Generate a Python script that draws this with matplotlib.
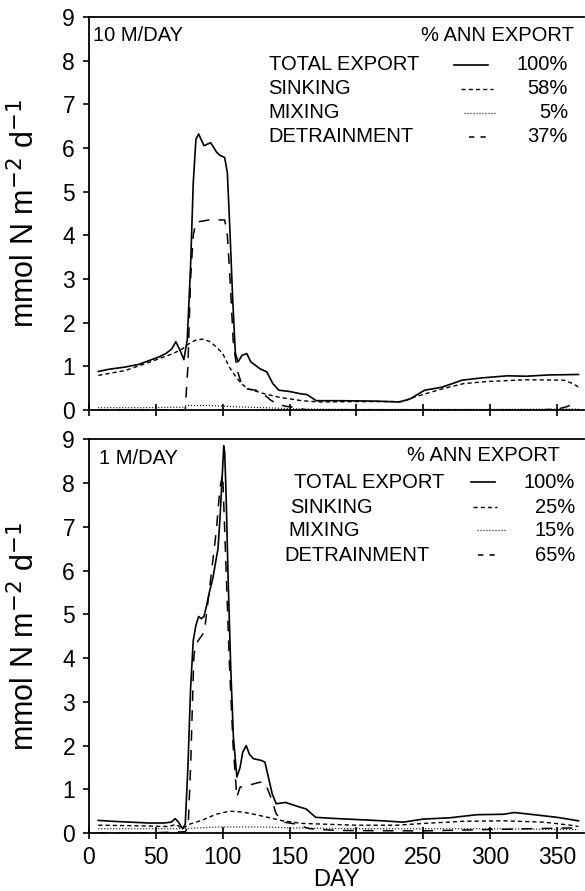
import numpy as np
import matplotlib.pyplot as plt
from matplotlib.lines import Line2D

plt.rcParams['font.family'] = ['Liberation Sans', 'DejaVu Sans']

# ---- 10 M/DAY panel ----
day_total_10 = [7, 15, 27, 37, 46, 53, 58, 62, 65, 68, 71, 73.5, 76, 78, 80, 82, 86, 91, 95.5, 98, 101.5,
                103.5, 105.5, 107.5, 109.5, 111.5, 114.5, 118, 121, 128, 133, 137.5, 142, 150, 158, 163,
                170, 187, 215, 232, 240, 251, 264, 279, 293, 313, 327, 344, 366]
total_10 = [0.88, 0.93, 0.98, 1.04, 1.14, 1.22, 1.30, 1.40, 1.56, 1.37, 1.15, 1.60, 3.3, 5.2, 6.2, 6.32,
            6.05, 6.12, 5.90, 5.83, 5.78, 5.43, 4.05, 2.52, 1.29, 1.10, 1.25, 1.29, 1.10, 0.94, 0.87,
            0.60, 0.45, 0.42, 0.37, 0.35, 0.21, 0.21, 0.20, 0.18, 0.25, 0.45, 0.52, 0.68, 0.73, 0.78,
            0.77, 0.80, 0.81]

day_sink_10 = [7, 27, 46, 63, 70, 75, 80, 85, 90, 95, 100, 105, 110, 114, 119, 131, 142, 159, 173, 200,
               235, 243, 264, 280, 298, 327, 355, 362, 366]
sink_10 = [0.79, 0.90, 1.10, 1.29, 1.40, 1.52, 1.60, 1.62, 1.57, 1.45, 1.29, 0.98, 0.75, 0.60, 0.48,
           0.37, 0.29, 0.21, 0.18, 0.19, 0.19, 0.29, 0.48, 0.60, 0.65, 0.69, 0.68, 0.60, 0.52]

day_mix_10 = [7, 40, 70, 73, 90, 110, 130, 160, 200, 300, 366]
mix_10 = [0.05, 0.05, 0.06, 0.10, 0.10, 0.07, 0.05, 0.02, 0.01, 0.01, 0.02]

day_detr_10 = [7, 72, 74, 76, 78, 80, 90, 101.5, 103.5, 105.5, 108, 111, 114, 118, 125, 131, 136, 142,
               147.5, 156, 162, 250, 340, 352, 358, 362]
detr_10 = [0.0, 0.0, 1.0, 3.0, 4.0, 4.3, 4.35, 4.35, 4.0, 3.0, 1.5, 0.9, 0.6, 0.48, 0.45, 0.35, 0.22,
           0.12, 0.08, 0.05, 0.0, 0.0, 0.0, 0.03, 0.08, 0.15]

# ---- 1 M/DAY panel ----
day_total_1 = [7, 17, 31, 45, 56, 61.5, 64.5, 67, 70, 72, 74, 76, 78, 80, 82, 84, 86, 88, 90, 92.5, 96.5,
               98, 99.4, 100.8, 101.5, 102.5, 104, 106, 108, 110.6, 113, 115, 117.6, 120, 123, 129, 131.6,
               134, 137, 140, 147, 157, 162.5, 169.5, 180, 200, 220, 235, 250, 270, 290, 310, 318, 330,
               350, 366]
total_1 = [0.29, 0.27, 0.25, 0.23, 0.23, 0.25, 0.33, 0.25, 0.10, 0.20, 1.5, 3.3, 4.4, 4.75, 4.95, 4.9,
           4.95, 5.2, 5.5, 5.8, 6.5, 7.2, 8.0, 8.85, 8.7, 7.8, 5.9, 3.8, 2.2, 1.28, 1.5, 1.85, 2.0, 1.8,
           1.7, 1.66, 1.62, 1.3, 0.9, 0.67, 0.70, 0.60, 0.55, 0.36, 0.34, 0.31, 0.28, 0.25, 0.32, 0.35,
           0.42, 0.43, 0.47, 0.43, 0.36, 0.28]

day_sink_1 = [7, 30, 60, 65, 70, 75, 85, 95, 105, 115, 125, 135, 145, 160, 180, 200, 230, 250, 280, 310,
              340, 360, 366]
sink_1 = [0.18, 0.17, 0.15, 0.20, 0.10, 0.20, 0.30, 0.43, 0.50, 0.48, 0.42, 0.35, 0.28, 0.22, 0.20, 0.18,
          0.18, 0.22, 0.27, 0.28, 0.25, 0.18, 0.15]

day_mix_1 = [7, 40, 70, 90, 100, 130, 150, 200, 300, 366]
mix_1 = [0.10, 0.10, 0.10, 0.13, 0.14, 0.14, 0.12, 0.10, 0.10, 0.08]

day_detr_1 = [7, 40, 72, 74.2, 76, 78.4, 79.5, 86.3, 91, 95.2, 98, 100, 102, 105, 107.8, 110.6, 113, 119,
              127.5, 131.6, 136, 140, 145.7, 154, 165, 185, 250, 330, 366]
detr_1 = [0.0, 0.0, 0.03, 0.15, 1.5, 4.0, 4.3, 4.6, 5.8, 6.9, 7.9, 8.2, 6.5, 3.9, 2.0, 0.82, 1.05, 1.09,
          1.16, 1.16, 0.82, 0.44, 0.25, 0.21, 0.10, 0.06, 0.05, 0.10, 0.12]

panels = [
    dict(title='10 M/DAY', pct=['100%', '58%', '5%', '37%'],
         series=[(day_total_10, total_10), (day_sink_10, sink_10), (day_mix_10, mix_10), (day_detr_10, detr_10)]),
    dict(title='1 M/DAY', pct=['100%', '25%', '15%', '65%'],
         series=[(day_total_1, total_1), (day_sink_1, sink_1), (day_mix_1, mix_1), (day_detr_1, detr_1)]),
]
names = ['TOTAL EXPORT', 'SINKING', 'MIXING', 'DETRAINMENT']
styles = [dict(ls='-', lw=1.2),
          dict(ls=(0, (3.0, 2.2)), lw=1.0),
          dict(ls=(0, (0.8, 1.6)), lw=0.9),
          dict(ls=(0, (7.0, 6.0)), lw=1.1)]
# the key samples use a tighter dash for detrainment, as in the original key
key_styles = styles[:3] + [dict(ls=(0, (3.5, 4.0)), lw=1.1)]

# legend layout per panel (axes fractions)
leg_top = dict(title_x=0.008, title_y=0.952, head_x=0.98, head_y=0.952, lab_x=[0.363] * 4,
               ys=[0.878, 0.817, 0.756, 0.695], pct_x=0.968,
               seg=[(0.738, 0.806), (0.752, 0.817), (0.758, 0.82), (0.768, 0.806)])
leg_bot = dict(title_x=0.02, title_y=0.952, head_x=0.952, head_y=0.959, lab_x=[0.415, 0.407, 0.403, 0.395],
               ys=[0.891, 0.827, 0.769, 0.706], pct_x=0.982,
               seg=[(0.772, 0.821), (0.776, 0.825), (0.784, 0.843), (0.786, 0.826)])

fig = plt.figure(figsize=(5.85, 8.91), dpi=100)
ax_top = fig.add_axes([0.152, 0.540, 0.846, 0.441])
ax_bot = fig.add_axes([0.152, 0.065, 0.846, 0.442])

for ax, p, lay in [(ax_top, panels[0], leg_top), (ax_bot, panels[1], leg_bot)]:
    for (d, v), st in zip(p['series'], styles):
        ax.plot(d, v, color='black', **st)
    ax.set_xlim(0, 370)
    ax.set_ylim(0, 9)
    ax.set_xticks(np.arange(0, 351, 50))
    ax.set_yticks(np.arange(0, 10, 1))
    ax.spines['right'].set_visible(False)
    for s in ['left', 'top', 'bottom']:
        ax.spines[s].set_linewidth(1.3)
    ax.tick_params(axis='x', direction='inout', length=8, width=1.2, labelsize=16.5, pad=5)
    ax.tick_params(axis='y', direction='out', length=4, width=1.2, labelsize=16.5, pad=6)
    ax.set_ylabel(r'mmol N m$^{-2}$ d$^{-1}$', fontsize=22)
    ax.yaxis.set_label_coords(-0.097, 0.5)

    ax.text(lay['title_x'], lay['title_y'], p['title'], transform=ax.transAxes,
            fontsize=14.5, ha='left', va='center')
    ax.text(lay['head_x'], lay['head_y'], '% ANN EXPORT', transform=ax.transAxes,
            fontsize=14.5, ha='right', va='center')
    for i in range(4):
        y = lay['ys'][i]
        ax.text(lay['lab_x'][i], y, names[i], transform=ax.transAxes, fontsize=14.5, ha='left', va='center')
        ax.text(lay['pct_x'], y, p['pct'][i], transform=ax.transAxes, fontsize=14.5, ha='right', va='center')
        x0, x1 = lay['seg'][i]
        ax.add_line(Line2D([x0, x1], [y, y], transform=ax.transAxes, color='black', **key_styles[i]))

ax_top.tick_params(axis='x', labelbottom=False)
ax_bot.set_xlabel('DAY', fontsize=17, labelpad=0)

fig.savefig('out.png', dpi=100)
